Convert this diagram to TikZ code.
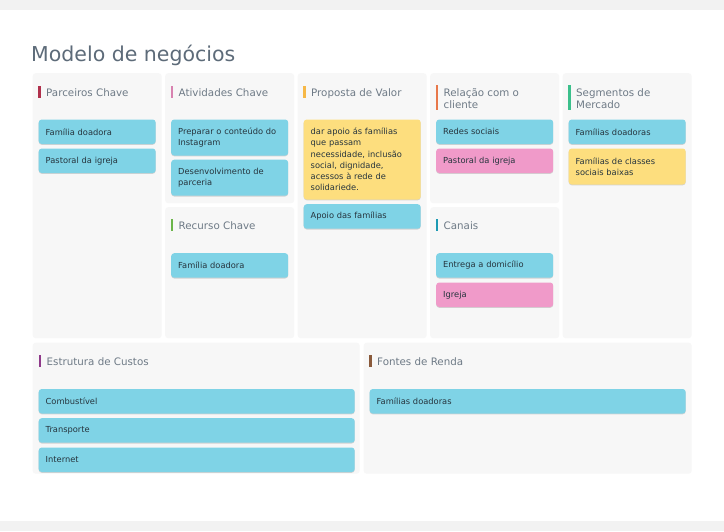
\documentclass[tikz,border=0pt]{standalone}
\usepackage{fontspec}
\setmainfont{DejaVu Sans}
\usetikzlibrary{shadows}

\definecolor{bandgray}{HTML}{F2F2F2}
\definecolor{panelgray}{HTML}{F7F7F7}
\definecolor{titlegray}{HTML}{5D6B79}
\definecolor{headgray}{HTML}{6E7A86}
\definecolor{notetext}{HTML}{26343D}
\definecolor{notecyan}{HTML}{7FD3E6}
\definecolor{notepink}{HTML}{F09AC9}
\definecolor{noteyellow}{HTML}{FDDE7E}
\definecolor{barpartners}{HTML}{B0304C}
\definecolor{baractivities}{HTML}{D882B0}
\definecolor{barvalue}{HTML}{F6B847}
\definecolor{barrelation}{HTML}{E8784A}
\definecolor{barsegments}{HTML}{3CC08C}
\definecolor{barresources}{HTML}{6BB54A}
\definecolor{barchannels}{HTML}{1D9AB3}
\definecolor{barcosts}{HTML}{8F3A8A}
\definecolor{barrevenue}{HTML}{8A5A3B}

\tikzset{
  panel/.style={fill=panelgray, rounded corners=3pt, anchor=north west,
    inner sep=0pt, minimum width=129pt, minimum height=265pt},
  headbar/.style={fill=#1, anchor=north west, inner sep=0pt,
    minimum width=2.5pt, minimum height=12.5pt},
  headtext/.style={anchor=north west, inner sep=0pt, text=headgray,
    align=left, font=\fontsize{10.3}{12}\selectfont},
  note/.style={fill=#1, rounded corners=3pt, anchor=north west,
    inner xsep=7pt, inner ysep=0pt, text width=103pt,
    minimum width=117pt, minimum height=24.5pt, align=left,
    text=notetext, font=\fontsize{8.3}{11.2}\selectfont,
    drop shadow={shadow xshift=0pt, shadow yshift=-0.8pt, opacity=0.15, fill=black}},
  widenote/.style={note=#1, text width=302pt, minimum width=316pt}
}

\begin{document}
\begin{tikzpicture}[x=1pt, y=-1pt]
  % page and bands
  \useasboundingbox (0,0) rectangle (724,531);
  \fill[white] (0,0) rectangle (724,531);
  \fill[bandgray] (0,0) rectangle (724,10);
  \fill[bandgray] (0,521) rectangle (724,531);

  % title
  \node[anchor=base west, inner sep=0pt, text=titlegray,
        font=\fontsize{20.5}{24}\selectfont] (title) at (31,61) {Modelo de negócios};

  % panels
  \node[panel] (pPartners) at (32.5,73) {};
  \node[panel, minimum height=130pt] (pActivities) at (165,73) {};
  \node[panel, minimum height=131pt] (pResources) at (165,207) {};
  \node[panel] (pValue) at (297.5,73) {};
  \node[panel, minimum height=130pt] (pRelation) at (430,73) {};
  \node[panel, minimum height=131pt] (pChannels) at (430,207) {};
  \node[panel] (pSegments) at (562.5,73) {};
  \node[panel, minimum width=327pt, minimum height=131pt] (pCosts) at (32.5,342.5) {};
  \node[panel, minimum width=328pt, minimum height=131pt] (pRevenue) at (363.5,342.5) {};

  % headers
  \node[headbar=barpartners] (bPartners) at (38,85.5) {};
  \node[headtext] (hPartners) at (46,88) {Parceiros Chave};
  \node[headbar=baractivities] (bActivities) at (170.5,85.5) {};
  \node[headtext] (hActivities) at (178.5,88) {Atividades Chave};
  \node[headbar=barvalue] (bValue) at (303,85.5) {};
  \node[headtext] (hValue) at (311,88) {Proposta de Valor};
  \node[headbar=barrelation, minimum height=25pt] (bRelation) at (435.5,85) {};
  \node[headtext] (hRelation) at (443.5,88) {Relação com o\\cliente};
  \node[headbar=barsegments, minimum height=25pt] (bSegments) at (568,85) {};
  \node[headtext] (hSegments) at (576,88) {Segmentos de\\Mercado};
  \node[headbar=barresources] (bResources) at (170.5,218.5) {};
  \node[headtext] (hResources) at (178.5,221) {Recurso Chave};
  \node[headbar=barchannels] (bChannels) at (435.5,218.5) {};
  \node[headtext] (hChannels) at (443.5,221) {Canais};
  \node[headbar=barcosts] (bCosts) at (38.5,354.5) {};
  \node[headtext] (hCosts) at (46.5,357) {Estrutura de Custos};
  \node[headbar=barrevenue] (bRevenue) at (369,354.5) {};
  \node[headtext] (hRevenue) at (377,357) {Fontes de Renda};

  % Parceiros Chave
  \node[note=notecyan] (n11) at (38.5,119.3) {Família doadora};
  \node[note=notecyan] (n12) at (38.5,148.3) {Pastoral da igreja};

  % Atividades Chave
  \node[note=notecyan, minimum height=36pt] (n21) at (171,119.3) {Preparar o conteúdo do\\Instagram};
  \node[note=notecyan, minimum height=36pt] (n22) at (171,159.5) {Desenvolvimento de\\parceria};

  % Recurso Chave
  \node[note=notecyan] (n23) at (171,253) {Família doadora};

  % Proposta de Valor
  \node[note=noteyellow, minimum height=80pt] (n31) at (303.5,119.3)
    {dar apoio ás famílias\\que passam\\necessidade, inclusão\\social, dignidade,\\acessos à rede de\\solidariede.};
  \node[note=notecyan] (n32) at (303.5,204) {Apoio das famílias};

  % Relação com o cliente
  \node[note=notecyan] (n41) at (436,119.3) {Redes sociais};
  \node[note=notepink] (n42) at (436,148.3) {Pastoral da igreja};

  % Canais
  \node[note=notecyan] (n43) at (436,253) {Entrega a domicílio};
  \node[note=notepink] (n44) at (436,282.3) {Igreja};

  % Segmentos de Mercado
  \node[note=notecyan] (n51) at (568.5,119.3) {Famílias doadoras};
  \node[note=noteyellow, minimum height=36pt] (n52) at (568.5,148.3) {Famílias de classes\\sociais baixas};

  % Estrutura de Custos
  \node[widenote=notecyan] (c1) at (38.5,388.8) {Combustível};
  \node[widenote=notecyan] (c2) at (38.5,418) {Transporte};
  \node[widenote=notecyan] (c3) at (38.5,447.3) {Internet};

  % Fontes de Renda
  \node[widenote=notecyan] (r1) at (369.5,388.8) {Famílias doadoras};
\end{tikzpicture}
\end{document}
